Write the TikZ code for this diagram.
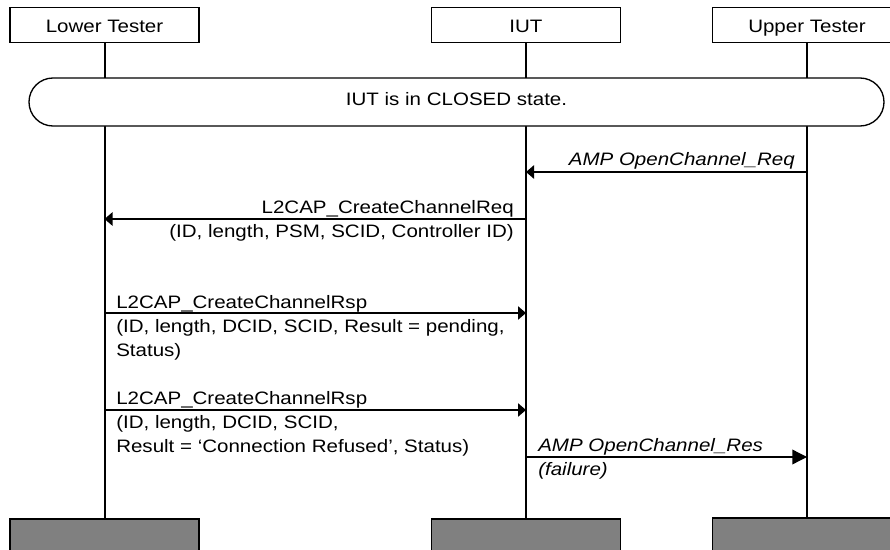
\documentclass[tikz,border=0pt]{standalone}
\usepackage{fontspec}
\setmainfont[FakeStretch=1.14]{Liberation Sans}
\usepackage{tikz}
\usetikzlibrary{arrows.meta, positioning, shapes.misc}

\newcommand{\msgfont}{\fontsize{13.5}{18}\selectfont}

\begin{document}
\begin{tikzpicture}[x=0.75pt, y=-0.75pt,
		entity/.style={draw, line width=0.9pt, minimum width=141.75pt, minimum height=26.25pt, inner sep=0pt, text height=12pt, text depth=1.5pt, font=\msgfont},
		entityend/.style={entity, fill=black!50, minimum height=30pt},
		life/.style={line width=1.5pt},
		msg/.style={line width=1pt, -{Triangle[length=6pt, width=10pt]}},
		bigmsg/.style={line width=1pt, -{Triangle[length=11pt, width=11pt]}},
		msgtxt/.style={font=\msgfont, inner sep=0pt}]
	\useasboundingbox (0,0) rectangle (890,550);
	% entities
	\node[entity] (LT) at (104.5,25) {Lower Tester};
	\node[entity] (IUT) at (526,25) {IUT};
	\node[entity] (UT) at (807,25) {Upper Tester};
	\node[entityend] (LTend) at (104.5,539) {};
	\node[entityend] (IUTend) at (526,539) {};
	\node[entityend] (UTend) at (807,538) {};
	\draw[life] (LT.south) -- (LTend.north);
	\draw[life] (IUT.south) -- (IUTend.north);
	\draw[life] (UT.south) -- (UTend.north);
	% initial state
	\node[draw, fill=white, line width=1pt, rounded rectangle, minimum width=641.25pt, minimum height=36pt, inner sep=0pt, text height=9.7pt, text depth=4pt, font=\msgfont] (closed) at (456.5,102) {IUT is in CLOSED state.};
	% messages
	\draw[msg] (UT |- 0,172) -- (IUT |- 0,172);
	\node[msgtxt, anchor=base east, font=\msgfont\itshape] (req) at (795,165) {AMP OpenChannel\_Req};
	\draw[msg] (IUT |- 0,219) -- (LT |- 0,219);
	\node[msgtxt, anchor=base east, align=right] (creq) at (514,237) {L2CAP\_CreateChannelReq\\(ID, length, PSM, SCID, Controller ID)};
	\draw[msg] (LT |- 0,313) -- (IUT |- 0,313);
	\node[msgtxt, anchor=base west, align=left] (crsp1) at (116,356) {L2CAP\_CreateChannelRsp\\(ID, length, DCID, SCID, Result = pending,\\Status)};
	\draw[msg] (LT |- 0,410) -- (IUT |- 0,410);
	\node[msgtxt, anchor=base west, align=left] (crsp2) at (116,452) {L2CAP\_CreateChannelRsp\\(ID, length, DCID, SCID,\\Result = ‘Connection Refused’, Status)};
	\draw[bigmsg] (IUT |- 0,457) -- (UT |- 0,457);
	\node[msgtxt, anchor=base west, align=left, font=\msgfont\itshape] (res) at (538,475) {AMP OpenChannel\_Res\\(failure)};
\end{tikzpicture}
\end{document}
